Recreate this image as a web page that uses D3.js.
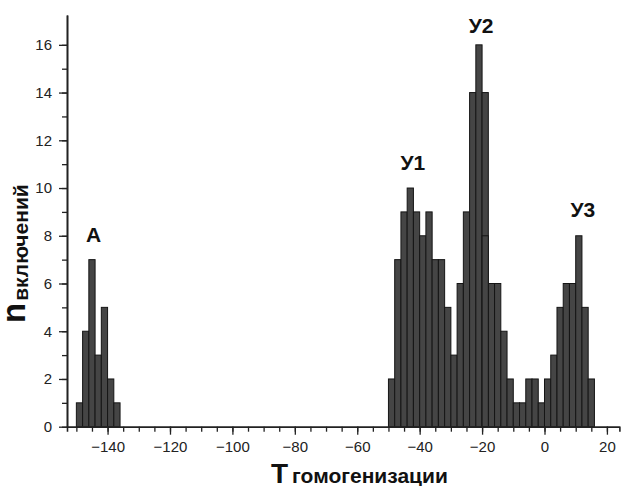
<!DOCTYPE html>
<html>
<head>
<meta charset="utf-8">
<script src="https://cdn.jsdelivr.net/npm/d3@7"></script>
<style>
  body { margin: 0; background: #fff; }
  svg text { font-family: "Liberation Sans", Arial, sans-serif; }
</style>
</head>
<body>
<div id="vis1"></div>
<script>
// histogram bins (left edge, width 2) and counts
const BIN = 2;
const binLeft = [-150, -148, -146, -144, -142, -140, -138,
  -50, -48, -46, -44, -42, -40, -38, -36, -34, -32, -30, -28, -26, -24, -22, -20,
  -18, -16, -14, -12, -10, -8, -6, -4, -2, 0, 2, 4, 6, 8, 10, 12, 14];
const counts = [1, 4, 7, 3, 5, 2, 1,
  2, 7, 9, 10, 9, 8, 9, 7, 7, 5, 3, 6, 9, 14, 16, 14,
  6, 6, 4, 2, 1, 1, 2, 2, 1, 2, 3, 5, 6, 6, 8, 5, 2];
// second bar drawn over the -20 bin
const overlayLeft = [-20];
const overlayCounts = [8];

const xMajor = [-140, -120, -100, -80, -60, -40, -20, 0, 20];
const yMajor = [0, 2, 4, 6, 8, 10, 12, 14, 16];

const labelText = ["А", "У1", "У2", "У3"];
const labelX = [-144.5, -42.2, -20.3, 12.3];
const labelY = [7.75, 10.75, 16.5, 8.8];

const FRAME_WIDTH = 621;
const FRAME_HEIGHT = 486;

const svg = d3.select("#vis1")
  .append("svg")
  .attr("width", FRAME_WIDTH)
  .attr("height", FRAME_HEIGHT);

const xScale = d3.scaleLinear().domain([-153, 24]).range([67, 619.4]);
const yScale = d3.scaleLinear().domain([0, 17.25]).range([426.7, 15]);

// bars
svg.append("g").selectAll("rect")
  .data(binLeft.map((b, i) => ({x: b, n: counts[i]})))
  .enter()
  .append("rect")
  .attr("x", d => xScale(d.x))
  .attr("width", d => xScale(d.x + BIN) - xScale(d.x))
  .attr("y", d => yScale(d.n))
  .attr("height", d => yScale(0) - yScale(d.n))
  .attr("fill", "#454545")
  .attr("stroke", "#151515")
  .attr("stroke-width", 1);

svg.append("g").selectAll("rect")
  .data(overlayLeft.map((b, i) => ({x: b, n: overlayCounts[i]})))
  .enter()
  .append("rect")
  .attr("x", d => xScale(d.x))
  .attr("width", d => xScale(d.x + BIN) - xScale(d.x))
  .attr("y", d => yScale(d.n))
  .attr("height", d => yScale(0) - yScale(d.n))
  .attr("fill", "#454545")
  .attr("stroke", "#151515")
  .attr("stroke-width", 1);

// axes: minor ticks then major ticks with labels
const xMinor = d3.range(-150, 25, 5);
const yMinor = d3.range(0, 17, 1);

function styleAxis(g) {
  g.selectAll("path").attr("stroke", "#222").attr("stroke-width", 1.6);
  g.selectAll("line").attr("stroke", "#222").attr("stroke-width", 1.3);
  g.selectAll("text").attr("font-size", "15px").attr("fill", "#222")
    .attr("font-family", "Liberation Sans, Arial, sans-serif");
}

svg.append("g")
  .attr("transform", `translate(0, ${yScale(0)})`)
  .call(d3.axisBottom(xScale).tickValues(xMinor).tickSize(5).tickFormat(""))
  .call(styleAxis);

svg.append("g")
  .attr("transform", `translate(0, ${yScale(0)})`)
  .call(d3.axisBottom(xScale).tickValues(xMajor).tickSize(8).tickPadding(7).tickSizeOuter(0))
  .call(styleAxis);

svg.append("g")
  .attr("transform", `translate(${xScale(-153)}, 0)`)
  .call(d3.axisLeft(yScale).tickValues(yMinor).tickSize(5).tickFormat("").tickSizeOuter(0))
  .call(styleAxis);

svg.append("g")
  .attr("transform", `translate(${xScale(-153)}, 0)`)
  .call(d3.axisLeft(yScale).tickValues(yMajor).tickSize(8).tickPadding(7).tickSizeOuter(0))
  .call(styleAxis);

// group labels
svg.append("g").selectAll("text")
  .data(labelText)
  .enter()
  .append("text")
  .attr("x", (d, i) => xScale(labelX[i]))
  .attr("y", (d, i) => yScale(labelY[i]))
  .attr("text-anchor", "middle")
  .attr("font-size", "21px")
  .attr("font-weight", "bold")
  .attr("fill", "#111")
  .text(d => d);

// x axis title
const xt = svg.append("text")
  .attr("x", 271)
  .attr("y", 483)
  .attr("font-weight", "bold")
  .attr("fill", "#111");
xt.append("tspan").attr("font-size", "28px").text("T");
xt.append("tspan").attr("font-size", "21px").attr("dx", 4).text("гомогенизации");

// y axis title
const yt = svg.append("text")
  .attr("transform", "translate(25, 323) rotate(-90)")
  .attr("font-weight", "bold")
  .attr("fill", "#111");
yt.append("tspan").attr("font-size", "33px").text("n");
yt.append("tspan").attr("font-size", "21px").attr("dx", 2).attr("dy", 3).text("включений");
</script>
</body>
</html>
